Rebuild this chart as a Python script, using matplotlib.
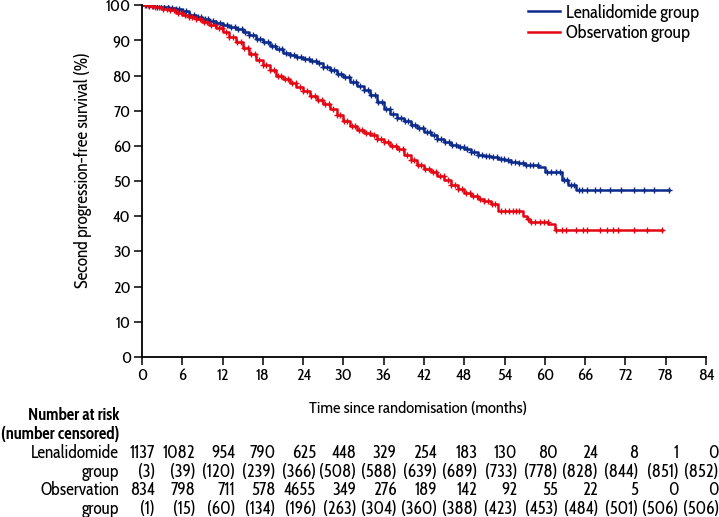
import matplotlib
matplotlib.use("Agg")
import matplotlib.pyplot as plt
import matplotlib.transforms as mtransforms
import numpy as np

plt.rcParams['font.family'] = ['Cabin Condensed', 'DejaVu Sans']

# Kaplan-Meier curves (months, % free of second progression)
len_t = [0, 1, 2, 3, 4, 5, 6, 7, 8, 9, 10, 11, 12, 13, 14, 15, 16, 17, 18, 19, 20,
         21, 22, 23, 24, 25, 26, 27, 28, 29, 30, 31, 32, 33, 34, 35, 36, 37, 38, 39,
         40, 41, 42, 43, 44, 45, 46, 47, 48, 49, 50, 51, 52, 53, 54, 55, 56, 57, 58,
         59, 60, 62.5, 63.5, 64.7, 78.5]
len_s = [100, 99.8, 99.6, 99.4, 99.2, 98.9, 98.3, 97.3, 96.5, 96.0, 95.5, 95.0, 94.5,
         93.9, 93.2, 92.4, 91.5, 90.5, 89.5, 88.5, 87.5, 86.5, 85.8, 85.3, 84.8, 84.2,
         83.5, 82.5, 81.5, 80.5, 79.5, 78.3, 77.0, 75.8, 74.5, 72.5, 70.5, 69.2, 68.0,
         67.0, 66.0, 65.0, 64.0, 63.0, 62.0, 61.0, 60.2, 59.6, 59.0, 58.2, 57.5, 57.1,
         56.8, 56.4, 56.0, 55.5, 55.0, 54.7, 54.5, 54.0, 52.6, 50.3, 49.0, 47.4, 47.4]

obs_t = [0, 1, 2, 3, 4, 5, 6, 7, 8, 9, 10, 11, 12, 13, 14, 15, 16, 17, 18, 19, 20,
         21, 22, 23, 24, 25, 26, 27, 28, 29, 30, 31, 32, 33, 34, 35, 36, 37, 38, 39,
         40, 41, 42, 43, 44, 45, 46, 47, 48, 49, 50, 51, 52, 53, 56.7, 57.3, 57.8,
         60.5, 61.5, 77.4]
obs_s = [100, 99.8, 99.5, 99.0, 98.5, 97.9, 97.2, 96.6, 96.0, 95.3, 94.5, 93.5, 92.5,
         91.0, 89.5, 87.8, 86.0, 84.5, 83.0, 81.5, 80.0, 79.0, 78.0, 76.8, 75.5, 74.2,
         73.0, 71.8, 70.5, 68.8, 67.0, 65.7, 64.5, 63.8, 63.0, 62.0, 61.0, 60.0, 59.0,
         57.5, 56.0, 54.7, 53.5, 52.5, 51.5, 50.2, 49.0, 47.7, 46.5, 45.7, 45.0, 44.2,
         43.5, 41.6, 40.2, 39.2, 38.4, 37.8, 36.0, 36.0]

# censoring marks (months)
len_cens = [0.6, 1.1, 1.7, 2.2, 2.8, 3.3, 3.9, 4.4, 5.0, 5.5, 6.1, 6.6, 7.2, 7.7, 8.3,
            8.8, 9.4, 9.9, 10.5, 11.0, 11.6, 12.1, 12.7, 13.2, 13.8, 14.3, 14.9, 15.4,
            16.0, 16.5, 17.1, 17.6, 18.2, 18.7, 19.3, 19.8, 20.4, 20.9, 21.5, 22.0,
            22.6, 23.1, 23.7, 24.2, 24.8, 25.3, 25.9, 26.4, 27.0, 27.5, 28.1, 28.6,
            29.2, 29.7, 30.3, 30.8, 31.4, 31.9, 32.5, 33.0, 33.6, 34.1, 34.7, 35.2,
            35.8, 36.3, 36.9, 37.4, 38.0, 38.5, 39.1, 39.6, 40.2, 40.7, 41.3, 41.8,
            42.4, 42.9, 43.5, 44.0, 44.6, 45.1, 45.7, 46.2, 46.8, 47.3, 47.9, 48.4,
            49.0, 49.5, 50.1, 50.6, 51.2, 51.7, 52.3, 52.8, 53.4, 53.9, 54.5, 55.0,
            55.6, 56.1, 56.7, 57.2, 57.8, 58.3, 58.9, 60.3, 60.9, 61.6, 62.2, 62.8,
            63.3, 63.9, 64.3, 65.1, 65.5, 66.2, 67.5, 68.2, 69.7, 71.4, 73.2, 74.7,
            76.2, 78.5]
obs_cens = [0.4, 0.9, 1.5, 2.0, 2.6, 3.1, 3.7, 4.2, 4.8, 5.3, 5.9, 6.4, 7.0, 7.5, 8.1,
            8.6, 9.2, 9.7, 10.3, 10.8, 11.4, 11.9, 12.5, 13.0, 13.6, 14.1, 14.7, 15.2,
            15.8, 16.3, 16.9, 17.4, 18.0, 18.5, 19.1, 19.6, 20.2, 20.7, 21.3, 21.8,
            22.4, 22.9, 23.5, 24.0, 24.6, 25.1, 25.7, 26.2, 26.8, 27.3, 27.9, 28.4,
            29.0, 29.5, 30.1, 30.6, 31.2, 31.7, 32.3, 32.8, 33.4, 33.9, 34.5, 35.0,
            35.6, 36.1, 36.7, 37.2, 37.8, 38.3, 38.9, 39.4, 40.0, 40.5, 41.1, 41.6,
            42.2, 42.7, 43.3, 43.8, 44.4, 44.9, 45.5, 46.0, 46.6, 47.1, 47.7, 48.2,
            48.8, 49.3, 49.9, 50.4, 51.0, 51.5, 52.1, 52.6, 53.4, 54.1, 54.6, 55.2,
            55.7, 56.2, 57.5, 58.0, 58.6, 59.2, 59.8, 60.4, 61.7, 62.5, 63.2, 64.7,
            65.7, 66.2, 68.2, 69.2, 70.2, 70.9, 73.2, 75.2, 77.4]

# number at risk table
risk_times = [0, 6, 12, 18, 24, 30, 36, 42, 48, 54, 60, 66, 72, 78, 84]
len_risk = [1137, 1082, 954, 790, 625, 448, 329, 254, 183, 130, 80, 24, 8, 1, 0]
len_censn = [3, 39, 120, 239, 366, 508, 588, 639, 689, 733, 778, 828, 844, 851, 852]
obs_risk = [834, 798, 711, 578, 4655, 349, 276, 189, 142, 92, 55, 22, 5, 0, 0]
obs_censn = [1, 15, 60, 134, 196, 263, 304, 360, 388, 423, 453, 484, 501, 506, 506]

blue = '#0c2a8a'
red = '#e30613'

fig = plt.figure(figsize=(7.19, 5.17), dpi=100)
ax = fig.add_axes([0.1975, 0.3095, 0.7845, 0.6805])


def step_at(t, s, x):
    idx = np.searchsorted(t, x, side='right') - 1
    return np.asarray(s)[idx]


for t, s, cens, col, lab in [(len_t, len_s, len_cens, blue, 'Lenalidomide group'),
                             (obs_t, obs_s, obs_cens, red, 'Observation group')]:
    ax.plot(t, s, drawstyle='steps-post', color=col, lw=1.8, label=lab)
    ax.plot(cens, step_at(t, s, cens), ls='none', marker='+', ms=4.5, mew=1.0,
            color=col)

ax.set_xlim(0, 84)
ax.set_ylim(0, 100)
ax.set_xticks(risk_times)
ax.set_yticks(range(0, 101, 10))
ax.tick_params(direction='out', length=6, width=1.1, labelsize=12, pad=2)
for sp in ['top', 'right']:
    ax.spines[sp].set_visible(False)
for sp in ['left', 'bottom']:
    ax.spines[sp].set_linewidth(1.3)
ax.set_xlabel('Time since randomisation (months)', fontsize=12)
ax.xaxis.set_label_coords(0.49, -0.125)
ax.set_ylabel('Second progression-free survival (%)', fontsize=12.5)
ax.yaxis.set_label_coords(-0.089, 0.53)

ax.legend(loc='upper right', bbox_to_anchor=(1.0, 1.025), borderaxespad=0,
          frameon=False, fontsize=13, handlelength=1.8, handletextpad=0.3,
          labelspacing=0.15)

# number at risk table
tr = mtransforms.blended_transform_factory(ax.transData, fig.transFigure)
shift = 1.9  # columns sit just right of each tick
rows = [len_risk, ['({})'.format(v) for v in len_censn],
        obs_risk, ['({})'.format(v) for v in obs_censn]]
row_y = [453, 472, 490, 509]
for vals, ypx in zip(rows, row_y):
    for x, v in zip(risk_times, vals):
        fig.text(x + shift, 1 - ypx / 517, str(v), transform=tr, ha='right',
                 va='center', fontsize=12.5)

lab_x = 119 / 719
fig.text(lab_x, 1 - 415 / 517, 'Number at risk', ha='right', va='center',
         fontsize=12, fontweight='bold')
fig.text(lab_x, 1 - 434 / 517, '(number censored)', ha='right', va='center',
         fontsize=12, fontweight='bold')
for txt, ypx in zip(['Lenalidomide', 'group', 'Observation', 'group'], row_y):
    fig.text(lab_x, 1 - ypx / 517, txt, ha='right', va='center', fontsize=12.5)

fig.savefig('out.png', dpi=100)
